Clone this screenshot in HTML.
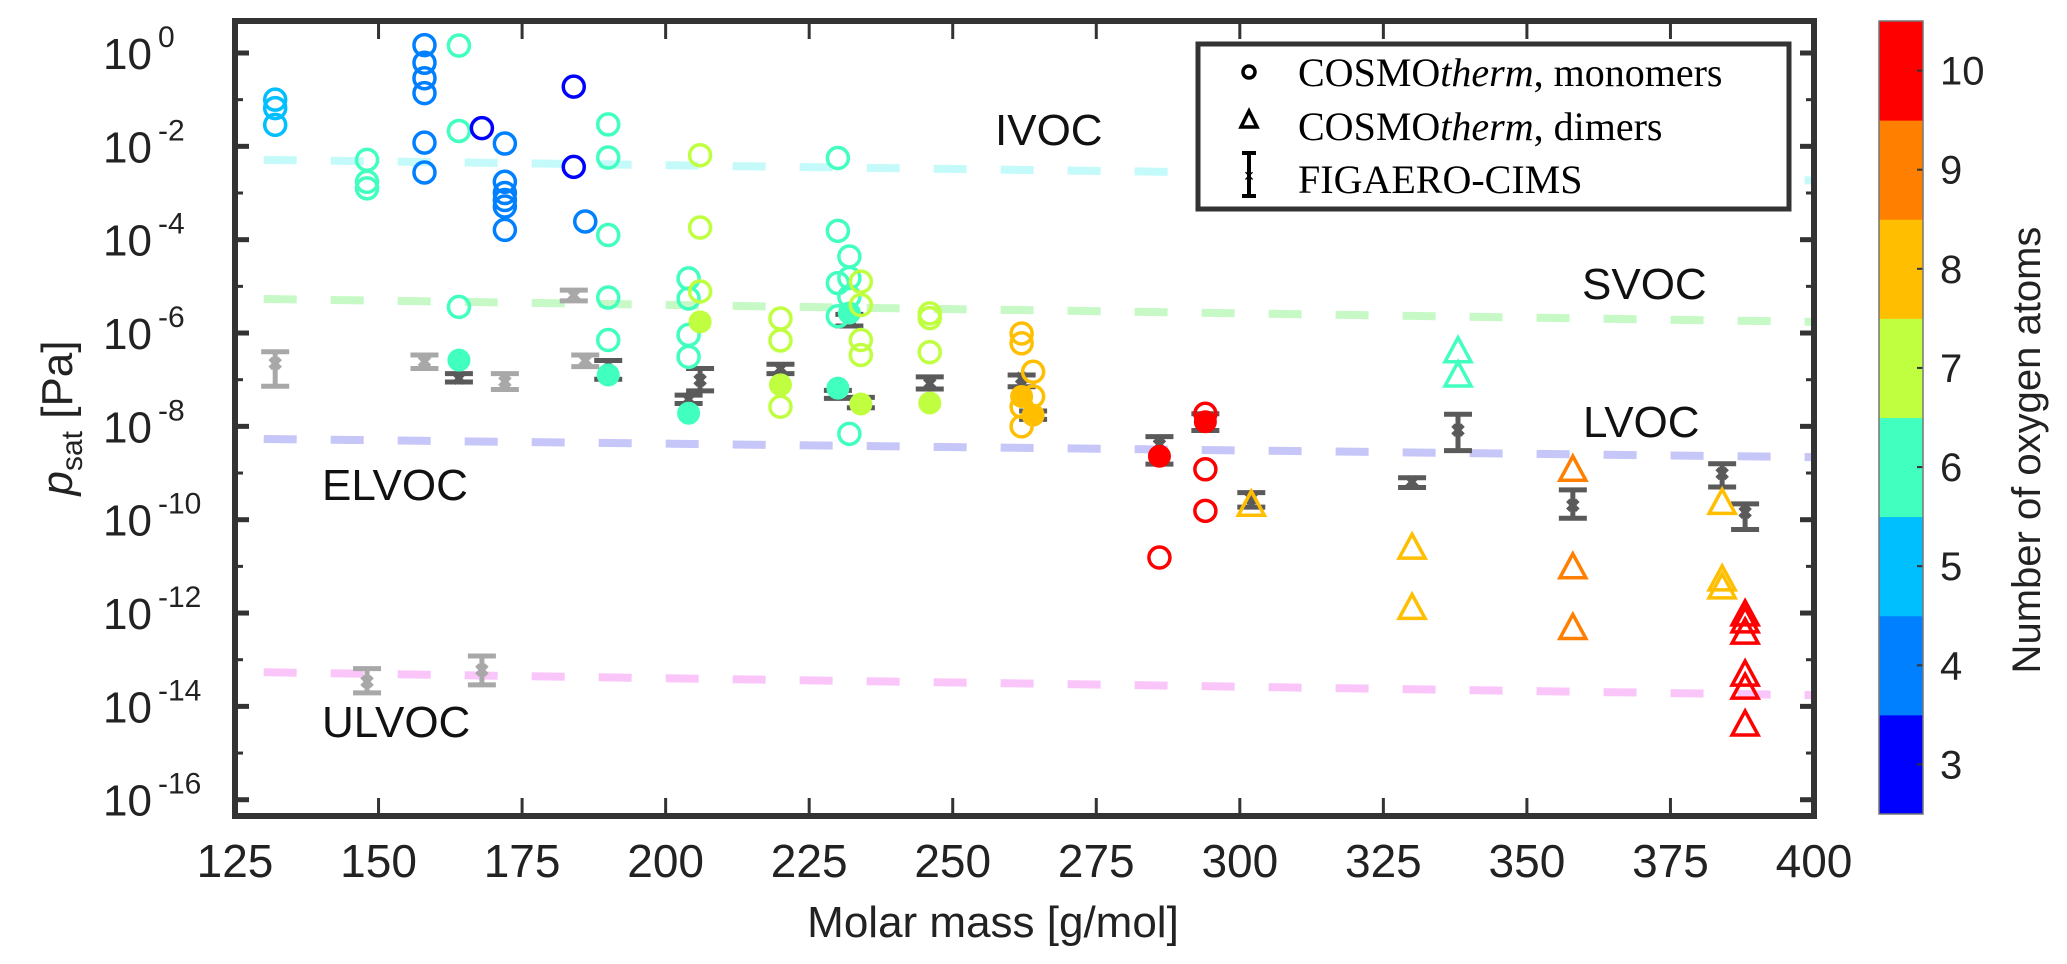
<!DOCTYPE html>
<html><head><meta charset="utf-8">
<style>
html,body{margin:0;padding:0;background:#fff;}
svg{display:block;}
text{font-family:"Liberation Sans",sans-serif;}
</style></head>
<body>
<svg id="chart" width="2067" height="964" viewBox="0 0 2067 964" xmlns="http://www.w3.org/2000/svg">
  <g id="bounds"></g>
  <g id="errs"></g>
  <g id="marks"></g>
  <g id="axes"></g>
  <g id="labels" font-size="44" fill="#111">
    <text x="995" y="145">IVOC</text>
    <text x="1582" y="299">SVOC</text>
    <text x="1583" y="437">LVOC</text>
    <text x="322" y="500">ELVOC</text>
    <text x="322" y="737">ULVOC</text>
  </g>
  <g id="legend">
    <rect x="1198" y="44" width="591" height="165" fill="#fff" stroke="#333" stroke-width="5"/>
    <circle cx="1249" cy="72" r="6" fill="none" stroke="#000" stroke-width="3.5"/>
    <polygon points="1249,111 1241,127 1257,127" fill="none" stroke="#000" stroke-width="3.5"/>
    <g stroke="#000" stroke-width="4">
      <line x1="1249" y1="153" x2="1249" y2="196"/><line x1="1242" y1="153" x2="1256" y2="153"/><line x1="1242" y1="196" x2="1256" y2="196"/>
      <text x="1249" y="182" font-size="18" text-anchor="middle" stroke="none" fill="#000">×</text>
    </g>
    <g style="font-family:'Liberation Serif',serif;font-size:40px" fill="#000">
      <text style="font-family:'Liberation Serif',serif" x="1298" y="86">COSMO<tspan font-style="italic">therm</tspan>, monomers</text>
      <text style="font-family:'Liberation Serif',serif" x="1298" y="140">COSMO<tspan font-style="italic">therm</tspan>, dimers</text>
      <text style="font-family:'Liberation Serif',serif" x="1298" y="193">FIGAERO-CIMS</text>
    </g>
  </g>
  <g id="cbar"></g>
  <text x="993" y="937" font-size="44" text-anchor="middle" fill="#222">Molar mass [g/mol]</text>
  <text transform="translate(72,418) rotate(-90)" font-size="44" text-anchor="middle" fill="#222"><tspan font-style="italic">p</tspan><tspan font-size="30" dy="10">sat</tspan><tspan dy="-10"> [Pa]</tspan></text>
  <text transform="translate(2040,450) rotate(-90)" font-size="40" text-anchor="middle" fill="#222">Number of oxygen atoms</text>
</svg>
<script>
// ---- data ----
const monoMass = [132,132,132,148,148,148,158,158,158,158,158,158,164,164,164,164,168,172,172,172,172,172,172,184,184,186,190,190,190,190,190,190,204,204,204,204,204,206,206,206,206,220,220,220,220,230,230,230,230,230,232,232,232,232,232,234,234,234,234,234,246,246,246,246,262,262,262,262,262,264,264,264,286,286,294,294,294,294];
const monoLogP = [-1.0,-1.18,-1.54,-2.29,-2.76,-2.9,0.17,-0.21,-0.54,-0.86,-1.92,-2.56,0.16,-1.67,-5.44,-6.58,-1.61,-1.94,-2.76,-3.0,-3.15,-3.29,-3.79,-0.72,-2.44,-3.61,-1.53,-2.24,-3.9,-5.24,-6.15,-6.9,-4.83,-5.26,-6.04,-6.51,-7.72,-2.19,-3.74,-5.11,-5.76,-5.69,-6.16,-7.58,-7.11,-2.25,-3.81,-4.93,-5.64,-7.18,-8.16,-4.36,-4.82,-5.22,-5.57,-4.9,-5.4,-6.15,-6.47,-7.52,-5.58,-5.68,-6.41,-7.5,-6.01,-6.22,-7.58,-8.0,-7.36,-6.83,-7.36,-7.76,-8.64,-10.81,-7.73,-7.9,-8.92,-9.81];
const monoO    = [5,5,5,6,6,6,4,4,4,4,4,4,6,6,6,6,3,4,4,4,4,4,4,3,3,4,6,6,6,6,6,6,6,6,6,6,6,7,7,7,7,7,7,7,7,6,6,6,6,6,6,6,6,6,6,7,7,7,7,7,7,7,7,7,8,8,8,8,8,8,8,8,10,10,10,10,10,10];
const monoFilled=[0,0,0,0,0,0,0,0,0,0,0,0,0,0,0,1,0,0,0,0,0,0,0,0,0,0,0,0,0,0,0,1,0,0,0,0,1,0,0,0,1,0,0,0,1,0,0,0,0,1,0,0,0,0,1,0,0,0,0,1,0,0,0,1,0,0,0,0,1,0,0,1,1,0,0,1,0,0];
const dimMass = [302,338,338,330,330,358,358,358,384,384,384,388,388,388,388,388,388];
const dimLogP = [-9.69,-6.40,-6.92,-10.61,-11.9,-8.94,-11.03,-12.33,-9.65,-11.29,-11.46,-12.04,-12.19,-12.43,-13.33,-13.61,-14.4];
const dimO    = [8,6,6,8,8,9,9,9,8,8,8,10,10,10,10,10,10];
const figMass = [132,148,158,164,168,172,184,186,190,206,204,220,232,230,234,246,262,264,286,294,302,330,338,358,384,388];
const figLog  = [-6.65,-13.47,-6.61,-6.97,-13.22,-7.04,-5.19,-6.59,-6.79,-7.01,-7.42,-6.76,-5.72,-7.31,-7.47,-7.08,-6.97,-7.76,-8.39,-7.9,-9.54,-9.19,-8.08,-9.69,-9.01,-9.84];
const figLo   = [-7.14,-13.71,-6.76,-7.05,-13.54,-7.21,-5.31,-6.72,-6.99,-7.24,-7.51,-6.87,-5.85,-7.4,-7.6,-7.2,-7.15,-7.85,-8.81,-8.09,-9.73,-9.31,-8.52,-9.97,-9.3,-10.21];
const figHi   = [-6.40,-13.19,-6.47,-6.87,-12.92,-6.87,-5.08,-6.47,-6.59,-6.76,-7.33,-6.67,-5.6,-7.23,-7.38,-6.94,-6.9,-7.67,-8.22,-7.73,-9.42,-9.1,-7.74,-9.36,-8.8,-9.66];
const figLight= [1,1,1,0,1,1,1,1,0,0,0,0,0,0,0,0,0,0,0,0,0,0,0,0,0,0];
const boundNames = ["ivoc","svoc","lvoc","ulvoc"];
const boundLeft  = [-2.29,-5.27,-8.27,-13.27];
const boundRight = [-2.73,-5.76,-8.66,-13.76];
const xTicks = [125,150,175,200,225,250,275,300,325,350,375,400];
const yTicks = [0,-2,-4,-6,-8,-10,-12,-14,-16];
const cbTicks = [3,4,5,6,7,8,9,10];
const cbColors = ["#0000ff","#0080ff","#00bfff","#40ffbf","#bfff40","#ffbf00","#ff8000","#ff0000"];
const boundColors = ["#c4fafa","#c6f9c6","#c6c6f9","#fac6fa"];

// ---- scales ----
const X0=235, X1=1814, Y0=21, Y1=816;
const sx = m => X0 + (m-125)*(X1-X0)/275;
const sy = L => 53 - L*46.67;
const cy = o => 814 - (o-2.5)*(814-21)/8;
const col = o => cbColors[o-3];
const NS="http://www.w3.org/2000/svg";
function mk(tag, parent, attrs){const e=document.createElementNS(NS,tag);for(const k in attrs)e.setAttribute(k,attrs[k]);parent.appendChild(e);return e;}

// boundaries
const gb=document.getElementById('bounds');
boundNames.forEach((n,i)=>{
  const l=mk('line',gb,{x1:sx(130),y1:sy(boundLeft[i]),x2:sx(400),y2:sy(boundRight[i]),stroke:boundColors[i],'stroke-width':8,'stroke-dasharray':'33 34'});
  
  
});

// error bars
const ge=document.getElementById('errs');
figMass.forEach((m,i)=>{
  const g=mk('g',ge,{stroke:figLight[i]?'#a8a8a8':'#5a5a5a','stroke-width':5});
  
  
  const x=sx(m), yl=sy(figLo[i]), yh=sy(figHi[i]), yc=sy(figLog[i]);
  mk('line',g,{x1:x,y1:yh,x2:x,y2:yl});
  mk('line',g,{x1:x-14,y1:yh,x2:x+14,y2:yh});
  mk('line',g,{x1:x-14,y1:yl,x2:x+14,y2:yl});
  mk('line',g,{x1:x-5,y1:yc-5,x2:x+5,y2:yc+5});
  mk('line',g,{x1:x-5,y1:yc+5,x2:x+5,y2:yc-5});
});

// markers
const gm=document.getElementById('marks');
monoMass.forEach((m,i)=>{
  const c=col(monoO[i]);
  const e=mk('circle',gm,{cx:sx(m),cy:sy(monoLogP[i]),r:monoFilled[i]?11:10.5,fill:monoFilled[i]?c:'none',stroke:c,'stroke-width':monoFilled[i]?1:3.5});
  
  
});
dimMass.forEach((m,i)=>{
  const c=col(dimO[i]); const x=sx(m), y=sy(dimLogP[i]);
  const e=mk('polygon',gm,{points:`${x},${y-14} ${x-13},${y+10} ${x+13},${y+10}`,fill:'none',stroke:c,'stroke-width':3.5});
  
  
});

// axes
const ga=document.getElementById('axes');
mk('rect',ga,{x:X0,y:Y0,width:X1-X0,height:Y1-Y0,fill:'none',stroke:'#333','stroke-width':6});
xTicks.forEach(t=>{
  const x=sx(t);
  mk('line',ga,{x1:x,y1:Y1,x2:x,y2:Y1-18,stroke:'#333','stroke-width':3});
  mk('line',ga,{x1:x,y1:Y0,x2:x,y2:Y0+18,stroke:'#333','stroke-width':3});
  const tx=mk('text',ga,{x:x,y:877,'font-size':46,'text-anchor':'middle',fill:'#222'});
  tx.textContent=t;
  
  
});
for(let L=0;L>=-16;L--){
  const y=sy(L); const maj=(L%2===0);
  mk('line',ga,{x1:X0,y1:y,x2:X0+(maj?14:8),y2:y,stroke:'#333','stroke-width':maj?5:3});
  mk('line',ga,{x1:X1,y1:y,x2:X1-(maj?14:8),y2:y,stroke:'#333','stroke-width':maj?5:3});
}
yTicks.forEach(t=>{
  const y=sy(t);
  const tx=mk('text',ga,{x:152,y:y+16,'font-size':44,'text-anchor':'end',fill:'#222'});
  tx.textContent='10';
  
  
  const sp=mk('text',ga,{x:158,y:y-6,'font-size':30,fill:'#222'});
  sp.textContent=t;
  
  
});

// colorbar
const gc=document.getElementById('cbar');
cbTicks.forEach((o,i)=>{
  const r=mk('rect',gc,{x:1879,y:cy(o+0.5),width:44,height:cy(o-0.5)-cy(o+0.5)+0.5,fill:cbColors[i]});
  
  
  mk('line',gc,{x1:1917,y1:cy(o),x2:1923,y2:cy(o),stroke:'#333','stroke-width':2});
  const tx=mk('text',gc,{x:1940,y:cy(o)+14,'font-size':40,fill:'#222'});
  tx.textContent=o;
  
  
});
mk('rect',gc,{x:1879,y:21,width:44,height:793,fill:'none',stroke:'#777','stroke-width':1.5});
</script>
</body></html>
